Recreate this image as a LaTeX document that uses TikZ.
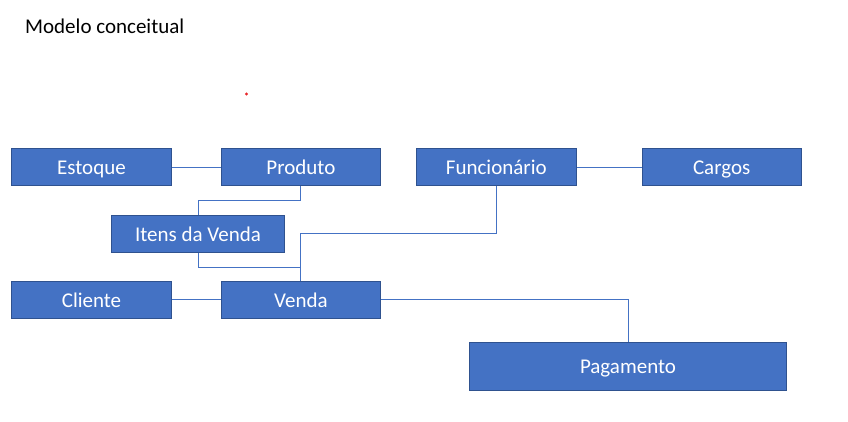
\documentclass[tikz,border=0pt]{standalone}
\usepackage{fontspec}
\setmainfont{Carlito}
\usetikzlibrary{positioning}

\definecolor{officeblue}{HTML}{4472C4}
\definecolor{officeedge}{HTML}{2F528F}
\definecolor{dotred}{HTML}{E8282B}

\begin{document}
\begin{tikzpicture}[
  x=1pt, y=-1pt,
  font=\fontsize{21}{25}\selectfont,
  node distance=49pt,
  entity/.style={draw=officeedge, fill=officeblue, text=white, line width=0.9pt,
    minimum width=159.5pt, minimum height=37pt, inner sep=2pt,
    text height=18.5pt, text depth=4pt},
  bigentity/.style={entity, minimum width=317pt, minimum height=48pt},
  link/.style={draw=officeblue, line width=0.9pt}
]
\useasboundingbox (0,0) rectangle (848,422);

\node[anchor=base west, inner sep=0pt] (title) at (25,34) {Modelo conceitual};
\fill[dotred] (246.5,94) circle (1.6pt);

\node[entity] (estoque) at (91.5,167) {Estoque};
\node[entity, right=of estoque] (produto) {Produto};
\node[entity, right=35pt of produto] (funcionario) {Funcionário};
\node[entity, right=65pt of funcionario] (cargos) {Cargos};

\node[entity, minimum width=173pt] (itens) at (198,234) {Itens da Venda};

\node[entity, below=95pt of estoque] (cliente) {Cliente};
\node[entity, right=of cliente] (venda) {Venda};

\node[bigentity] (pagamento) at (628,366.5) {Pagamento};

\draw[link] (estoque) -- (produto);
\draw[link] (funcionario) -- (cargos);
\draw[link] (cliente) -- (venda);

\draw[link] (produto.south) -- ++(0,14) -| (itens.north);
\draw[link] (itens.south) -- ++(0,14) -| (venda.north);
\draw[link] (funcionario.south) -- ++(0,47) -| (venda.north);
\draw[link] (venda.east) -| (pagamento.north);

\end{tikzpicture}
\end{document}
